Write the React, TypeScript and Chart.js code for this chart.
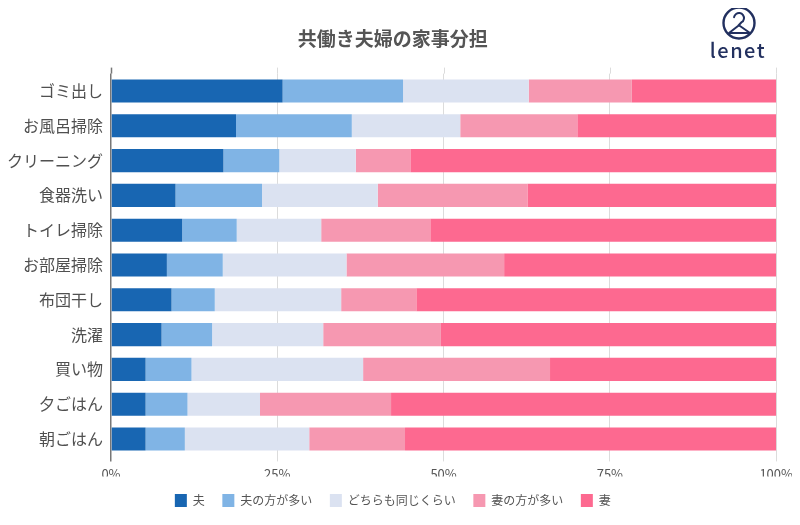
import React, { useEffect, useRef } from "react";
import { Chart, registerables } from "chart.js";

Chart.register(...registerables);

const categories = ["ゴミ出し", "お風呂掃除", "クリーニング", "食器洗い", "トイレ掃除", "お部屋掃除", "布団干し", "洗濯", "買い物", "夕ごはん", "朝ごはん"];
const seriesNames = ["夫", "夫の方が多い", "どちらも同じくらい", "妻の方が多い", "妻"];
const husband = [25.8, 18.8, 16.9, 9.7, 10.7, 8.4, 9.1, 7.6, 5.2, 5.2, 5.2];
const husbandMore = [18.1, 17.4, 8.4, 13.0, 8.2, 8.4, 6.5, 7.6, 6.9, 6.3, 5.9];
const same = [18.9, 16.3, 11.5, 17.4, 12.7, 18.6, 19.0, 16.7, 25.8, 10.9, 18.7];
const wifeMore = [15.5, 17.6, 8.2, 22.5, 16.4, 23.7, 11.3, 17.7, 28.1, 19.7, 14.4];
const wife = [21.7, 29.9, 55.0, 37.4, 52.0, 40.9, 54.1, 50.4, 34.0, 57.9, 55.8];
const colors = ["#1866b2", "#80b4e5", "#dbe2f1", "#f698b1", "#fd6990"];
const xTicks = [0, 25, 50, 75, 100];

const FONT = "'Noto Sans CJK JP', 'Noto Sans', sans-serif";

const extraPlugin = {
  id: "extras",
  beforeDatasetsDraw(chart: any) {
    const { ctx, chartArea, scales } = chart;
    const x = scales.x;
    ctx.save();
    xTicks.forEach((v) => {
      const px = Math.round(x.getPixelForValue(v)) + 0.5;
      ctx.strokeStyle = v === 0 ? "#777" : "#dcdcdc";
      ctx.lineWidth = v === 0 ? 1.5 : 1;
      ctx.beginPath();
      ctx.moveTo(px, chartArea.top - 6);
      ctx.lineTo(px, chartArea.top);
      ctx.stroke();
    });
    ctx.restore();
  },
  afterDraw(chart: any) {
    const { ctx } = chart;
    ctx.save();
    const cx = 731, cy = 15, r = 15.5;
    ctx.strokeStyle = "#22305f";
    ctx.lineWidth = 2.4;
    ctx.beginPath();
    ctx.arc(cx, cy, r, 0, Math.PI * 2);
    ctx.stroke();
    ctx.lineWidth = 2;
    ctx.lineJoin = "round";
    ctx.lineCap = "round";
    ctx.beginPath();
    ctx.arc(cx, cy - 5, 5, Math.PI * 1.05, Math.PI * 0.35, false);
    ctx.lineTo(cx - 1, cy + 3);
    ctx.lineTo(cx - 10, cy + 10);
    ctx.lineTo(cx + 11, cy + 10);
    ctx.lineTo(cx + 1, cy + 3);
    ctx.stroke();
    ctx.fillStyle = "#22305f";
    ctx.font = `500 20px ${FONT}`;
    ctx.textAlign = "center";
    ctx.textBaseline = "alphabetic";
    (ctx as any).letterSpacing = "1.5px";
    ctx.fillText("lenet", 730, 50);
    ctx.restore();
  },
};

export default function App() {
  const ref = useRef<HTMLCanvasElement | null>(null);
  useEffect(() => {
    if (!ref.current) return;
    const series = [husband, husbandMore, same, wifeMore, wife];
    const chart = new Chart(ref.current, {
      type: "bar",
      data: {
        labels: categories,
        datasets: series.map((d, i) => ({
          label: seriesNames[i],
          data: d,
          backgroundColor: colors[i],
          borderWidth: 0,
          categoryPercentage: 0.8,
          barPercentage: 0.83,
        })),
      },
      options: {
        indexAxis: "y",
        animation: false,
        responsive: true,
        maintainAspectRatio: false,
        layout: { padding: { left: 0, right: 20.3, top: 0, bottom: 0 } },
        plugins: {
          title: {
            display: true,
            text: "共働き夫婦の家事分担",
            color: "#555",
            font: { family: FONT, size: 19, weight: "bold" },
            padding: { top: 19, bottom: 23.8 },
          },
          legend: {
            position: "bottom",
            labels: {
              boxWidth: 12,
              boxHeight: 13,
              color: "#555",
              padding: 17.5,
              font: { family: FONT, size: 12 },
            },
          },
          tooltip: { enabled: false },
        },
        scales: {
          x: {
            stacked: true,
            min: 0,
            max: 100,
            afterFit: (s: any) => {
              s.height = s.height - 10.5;
            },
            ticks: {
              stepSize: 25,
              color: "#555",
              padding: 5,
              font: { family: FONT, size: 13 },
              callback: (v: any) => v + "%",
            },
            grid: {
              color: (c: any) => (c.tick && c.tick.value === 0 ? "#777" : "#dcdcdc"),
              lineWidth: (c: any) => (c.tick && c.tick.value === 0 ? 1.5 : 1),
              tickLength: 5,
            },
            border: { display: false },
          },
          y: {
            stacked: true,
            afterFit: (s: any) => {
              s.width = 103;
            },
            ticks: {
              color: "#505050",
              padding: 8,
              font: { family: FONT, size: 16 },
            },
            grid: { display: false, drawTicks: false },
            border: { display: false },
          },
        },
      },
      plugins: [extraPlugin],
    });
    return () => chart.destroy();
  }, []);
  return (
    <div style={{ width: 790, height: 509, position: "relative" }}>
      <canvas ref={ref} style={{ display: "block" }} />
    </div>
  );
}
